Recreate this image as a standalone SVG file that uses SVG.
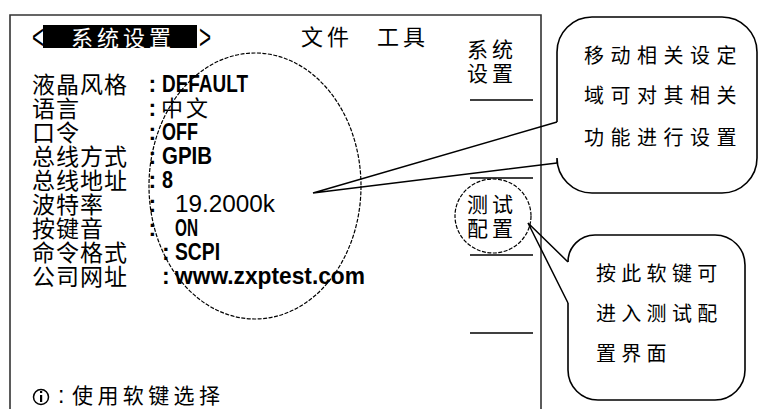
<svg xmlns="http://www.w3.org/2000/svg" width="758" height="409" viewBox="0 0 758 409">
<style>
.cjk{font-family:"Noto Sans CJK SC","Noto Sans CJK JP",sans-serif;fill:#000}
.lab{font-size:23px;letter-spacing:1px}
.val{font-family:"Liberation Sans",Arial,sans-serif;font-weight:bold;font-size:23px;fill:#000}
.reg{font-weight:normal}
.menu{font-size:21px;letter-spacing:4px}
.note{font-size:20px}
.line{stroke:#000;stroke-width:1.5;fill:none}
.dash{stroke:#000;stroke-width:1.2;fill:none;stroke-dasharray:4 1.5}
.box{stroke:#000;stroke-width:1.6;fill:#fff}
.inv{fill:#fff}
</style>

<g id="frame">
<path d="M10,409 L10,15 L541,15 L541,409" fill="none" stroke="#333" stroke-width="1.6"/>
</g>

<g id="title-bar">
<text class="val reg" font-size="20" transform="translate(32,49) scale(0.9,1.5)" x="0" y="0">&lt;</text>
<rect x="43" y="25" width="154" height="23" fill="#000"/>
<text class="cjk inv" x="71" y="46" font-size="22" letter-spacing="4" style="fill:#fff">系统设置</text>
<text class="val reg" font-size="20" transform="translate(199,49) scale(0.9,1.5)" x="0" y="0">&gt;</text>
<text class="cjk" x="301" y="45" font-size="22" letter-spacing="4">文件</text>
<text class="cjk" x="377" y="45" font-size="22" letter-spacing="4">工具</text>
</g>

<g id="settings-list">
<text class="cjk lab" x="32" y="93">液晶风格</text>
<text class="cjk lab" x="32" y="117">语言</text>
<text class="cjk lab" x="32" y="141">口令</text>
<text class="cjk lab" x="32" y="165">总线方式</text>
<text class="cjk lab" x="32" y="189">总线地址</text>
<text class="cjk lab" x="32" y="213">波特率</text>
<text class="cjk lab" x="32" y="237">按键音</text>
<text class="cjk lab" x="32" y="261">命令格式</text>
<text class="cjk lab" x="32" y="285">公司网址</text>

<text class="val" x="148.5" y="92">:</text>
<text class="val" x="162" y="92" textLength="86" lengthAdjust="spacingAndGlyphs">DEFAULT</text>
<text class="val" x="148.5" y="116">:</text>
<text class="cjk" x="161" y="116" font-size="22" letter-spacing="3">中文</text>
<text class="val" x="148.5" y="140">:</text>
<text class="val" x="162" y="140" textLength="36" lengthAdjust="spacingAndGlyphs">OFF</text>
<text class="val" x="148.5" y="164">:</text>
<text class="val" x="162" y="164" textLength="50" lengthAdjust="spacingAndGlyphs">GPIB</text>
<text class="val" x="148.5" y="188">:</text>
<text class="val" x="162" y="188" textLength="11" lengthAdjust="spacingAndGlyphs">8</text>
<text class="val" x="148.5" y="212">:</text>
<text class="val reg" x="175" y="212" textLength="100" lengthAdjust="spacingAndGlyphs">19.2000k</text>
<text class="val" x="148.5" y="236">:</text>
<text class="val" x="175" y="236" textLength="23" lengthAdjust="spacingAndGlyphs">ON</text>
<text class="val" x="162" y="260">:</text>
<text class="val" x="175" y="260" textLength="45" lengthAdjust="spacingAndGlyphs">SCPI</text>
<text class="val" x="162" y="284">:</text>
<text class="val" x="175" y="284" textLength="190" lengthAdjust="spacingAndGlyphs">www.zxptest.com</text>
</g>

<g id="hint">
<circle cx="41" cy="397" r="7.5" fill="none" stroke="#000" stroke-width="1.5"/>
<rect x="40" y="395" width="2.2" height="7" fill="#000"/>
<rect x="40" y="391" width="2.2" height="2" fill="#000"/>
<text class="val reg" x="58" y="403" font-size="22">:</text>
<text class="cjk" x="72" y="403" font-size="21" letter-spacing="4.4">使用软键选择</text>
</g>

<g id="softkeys">
<text class="cjk menu" x="467" y="57">系统</text>
<text class="cjk menu" x="467" y="81">设置</text>
<line class="line" x1="470" y1="100" x2="533" y2="100"/>
<line class="line" x1="470" y1="178" x2="533" y2="178"/>
<text class="cjk menu" x="467" y="212">测试</text>
<text class="cjk menu" x="467" y="236">配置</text>
<line class="line" x1="470" y1="255" x2="533" y2="255"/>
<line class="line" x1="470" y1="333" x2="533" y2="333"/>
</g>

<g id="highlight-area">
<ellipse class="dash" cx="255" cy="186" rx="106" ry="133"/>
</g>

<g id="highlight-key">
<ellipse class="dash" cx="493" cy="216" rx="38" ry="37"/>
</g>

<g id="callout-settings">
<path class="box" d="M557,163 L557,158 A35,35 0 0 0 592,193 L722,193 A35,35 0 0 0 757,158 L757,52 A35,35 0 0 0 722,17 L592,17 A35,35 0 0 0 557,52 L557,122"/>
<text class="cjk note" x="584" y="63" letter-spacing="6.5">移动相关设定</text>
<text class="cjk note" x="584" y="103" letter-spacing="6.5">域可对其相关</text>
<text class="cjk note" x="584" y="145" letter-spacing="6.5">功能进行设置</text>
</g>

<g id="callout-softkey">
<path class="box" d="M568,303 L568,370 A30,30 0 0 0 598,400 L715,400 A30,30 0 0 0 745,370 L745,265 A30,30 0 0 0 715,235 L595,235 A27,27 0 0 0 568,262"/>
<text class="cjk note" x="596" y="281" letter-spacing="5.3">按此软键可</text>
<text class="cjk note" x="596" y="321" letter-spacing="5.3">进入测试配</text>
<text class="cjk note" x="596" y="361" letter-spacing="5.3">置界面</text>
</g>

<g id="connectors">
<polyline class="line" points="557,122 313,193 557,163"/>
<polyline class="line" points="568,262 528,223 568,303"/>
</g>
</svg>
